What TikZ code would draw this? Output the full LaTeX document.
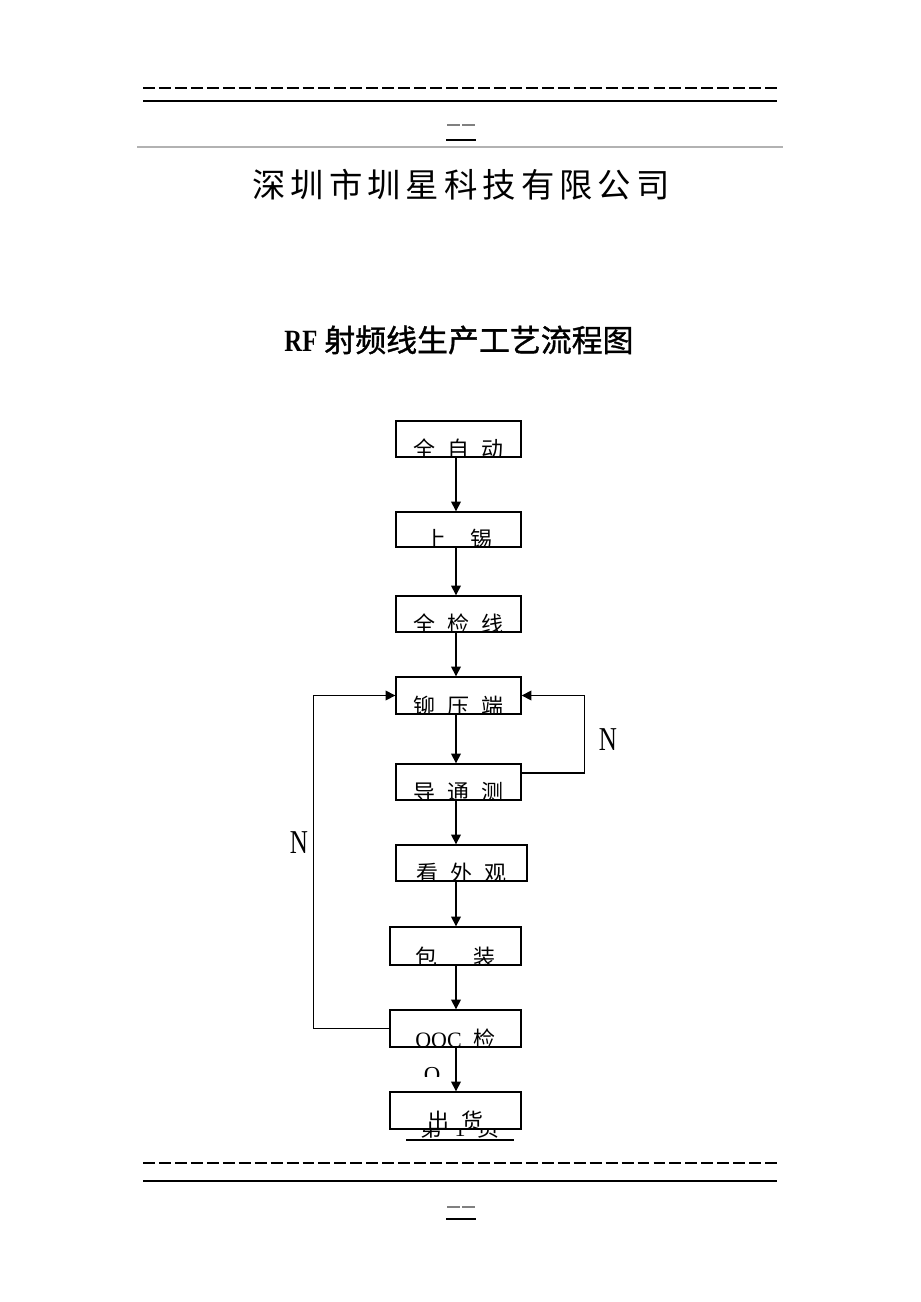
\documentclass[tikz,border=0pt]{standalone}
\usepackage{fontspec}
\setmainfont{Liberation Serif}
\newfontfamily\cjk{Noto Sans CJK SC}
\newfontfamily\cjkhead[LetterSpace=15]{Noto Sans CJK SC}
\newfontfamily\cjkbold[FakeBold=1.2]{Noto Sans CJK SC}
\usetikzlibrary{arrows.meta, positioning, calc}
\newcommand{\gp}{\hspace{0.24cm}}

\begin{document}
\begin{tikzpicture}[x=0.02cm, y=-0.02cm,
    stepbox/.style={draw, line width=0.8pt, rectangle, fill=white, inner sep=0pt},
    boxtext/.style={font=\cjk\fontsize{12.5}{14}\selectfont, inner sep=0pt, anchor=base},
    flow/.style={line width=0.85pt, -{Triangle[length=5.5pt, width=5.5pt]}},
    rule/.style={line width=1.2pt},
    hdash/.style={line width=1.1pt, dash pattern=on 6.8pt off 2.28pt},
    hshort/.style={line width=1.1pt, gray, dash pattern=on 7.3pt off 1.2pt}
]
    \useasboundingbox (0,0) rectangle (920,1302);

    % --- page header ---
    \draw[hdash] (143,88) -- (777,88);
    \draw[rule] (143,101) -- (777,101);
    \draw[hshort] (447,125) -- (476,125);
    \draw[rule] (446,140) -- (476,140);
    \draw[gray!60, line width=0.6pt] (137,147) -- (783,147);

    % --- titles ---
    \node[font=\cjkhead\fontsize{19}{22}\selectfont] (company) at (461,185) {深圳市圳星科技有限公司};
    \node[font=\cjkbold\fontsize{17.6}{20}\selectfont] (title) at (459,340)
        {{\rmfamily\bfseries\scalebox{0.8}[1]{RF}} 射频线生产工艺流程图};

    % --- page number, half hidden by the last box ---
    \node[font=\cjk\fontsize{12.5}{14}\selectfont, anchor=base] (pgno) at (460,1136) {第\gp{}\textrm{1}\gp{}页};
    \draw[line width=0.9pt] (406,1140) -- (514,1140);

    % --- process boxes (text cut off at the box bottom) ---
    \foreach \nm/\x/\y/\w/\h/\txt in {
        b1/458.5/439/2.5/0.72/全\gp{}自\gp{}动,
        b2/458.5/529.5/2.5/0.70/上\gp{}\gp{}锡,
        b3/458.5/614/2.5/0.72/全\gp{}检\gp{}线,
        b4/458.5/695.5/2.5/0.74/铆\gp{}压\gp{}端,
        b5/458.5/782/2.5/0.72/导\gp{}通\gp{}测,
        b6/461.5/863/2.62/0.72/看\gp{}外\gp{}观,
        b7/455.5/946/2.62/0.76/包\gp{}\gp{}\gp{}装,
        b8/455.5/1028.5/2.62/0.74/\textrm{OQC}\gp{}检,
        b9/455.5/1110.5/2.62/0.74/出\gp{}货}{
        \node[stepbox, minimum width=\w cm, minimum height=\h cm] (\nm) at (\x,\y) {};
        \begin{scope}
            \clip (\nm.south west) rectangle (\nm.north east);
            \node[boxtext] (\nm-t) at ($(\nm.south)+(0,0)$) {\txt};
        \end{scope}
    }

    % --- main flow ---
    \coordinate (spine) at (456,0);
    \foreach \a/\b in {b1/b2,b2/b3,b3/b4,b4/b5,b5/b6,b6/b7,b7/b8,b8/b9}
        \draw[flow] (\a.south -| spine) -- (\b.north -| spine);

    % --- rework loops ---
    \draw[flow] ($(b5.east)+(0,-9)$) -- ++(63,0) |- (b4.east);
    \draw[flow] (b8.west) -- ++(-76,0) |- (b4.west);
    \node[font=\fontsize{19}{22}\selectfont] (nright) at (608,740) {\scalebox{0.75}[1]{N}};
    \node[font=\fontsize{19}{22}\selectfont] (nleft) at (299,843) {\scalebox{0.75}[1]{N}};

    % --- stray top of a wrapped letter ---
    \begin{scope}
        \clip (420,1064) rectangle (446,1076);
        \node[font=\fontsize{13}{14}\selectfont, anchor=north, inner sep=0pt] (qtail) at (432,1067) {O};
    \end{scope}

    % --- page footer ---
    \draw[hdash] (143,1163) -- (777,1163);
    \draw[rule] (143,1181) -- (777,1181);
    \draw[hshort] (447,1207) -- (476,1207);
    \draw[rule] (446,1219) -- (476,1219);
\end{tikzpicture}
\end{document}
